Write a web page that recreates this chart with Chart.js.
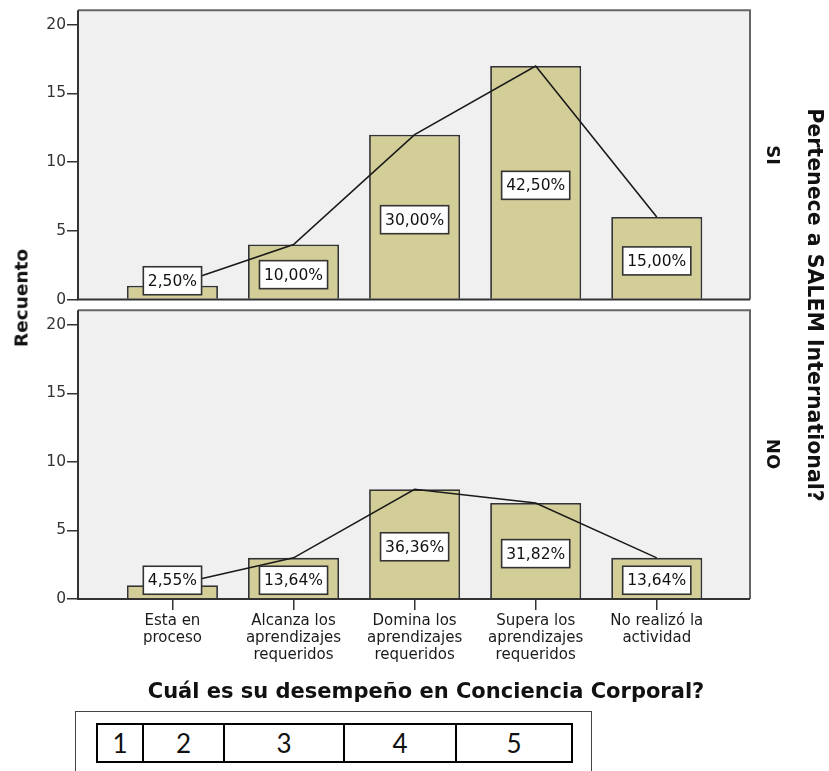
<!DOCTYPE html>
<html>
<head>
<meta charset="utf-8">
<script src="https://cdn.jsdelivr.net/npm/chart.js@4.4.1/dist/chart.umd.min.js"></script>
<style>
  html, body { margin: 0; padding: 0; background: #fff; }
  #wrap { position: relative; width: 829px; height: 771px; overflow: hidden; background: #fff; }
  canvas { position: absolute; left: 0; }
  .lbl { position: absolute; font-family: "DejaVu Sans", sans-serif; font-weight: bold; color: #111;
         white-space: nowrap; transform-origin: center center; }
  #box { position: absolute; left: 75px; top: 711px; width: 515px; height: 90px; border: 1.5px solid #444; }
  #tbl { position: absolute; left: 96px; top: 723px; border-collapse: collapse; }
  #tbl td { border: 2px solid #000; height: 36px; padding: 0; text-align: center;
            font-family: Lato, "Open Sans", sans-serif; font-size: 26px; color: #111; }
</style>
</head>
<body>
<div id="wrap">
  <canvas id="siChart" width="829" height="310" style="top:0"></canvas>
  <canvas id="noChart" width="829" height="379" style="top:300px"></canvas>

  <div class="lbl" id="yTitle" style="left:21px;top:298px;font-size:18.5px;transform:translate(-50%,-50%) rotate(-90deg)">Recuento</div>
  <div class="lbl" id="siLbl" style="left:773px;top:155px;font-size:18px;transform:translate(-50%,-50%) rotate(90deg)">SI</div>
  <div class="lbl" id="noLbl" style="left:773px;top:454px;font-size:18px;transform:translate(-50%,-50%) rotate(90deg)">NO</div>
  <div class="lbl" id="rTitle" style="left:815px;top:305px;font-size:20.5px;transform:translate(-50%,-50%) rotate(90deg)">Pertenece a SALEM International?</div>
  <div class="lbl" id="xTitle" style="left:426px;top:691px;font-size:21px;transform:translate(-50%,-50%)">Cuál es su desempeño en Conciencia Corporal?</div>

  <div id="box"></div>
  <table id="tbl"><tr id="tblRow"></tr></table>
</div>

<script>
// ── Data ──────────────────────────────────────────────────────────────────
var categories = [
  ['Esta en', 'proceso'],
  ['Alcanza los', 'aprendizajes', 'requeridos'],
  ['Domina los', 'aprendizajes', 'requeridos'],
  ['Supera los', 'aprendizajes', 'requeridos'],
  ['No realizó la', 'actividad']
];
var siCounts = [1, 4, 12, 17, 6];
var noCounts = [1, 3, 8, 7, 3];
var siPct = ['2,50%', '10,00%', '30,00%', '42,50%', '15,00%'];
var noPct = ['4,55%', '13,64%', '36,36%', '31,82%', '13,64%'];
var yTicks = [0, 5, 10, 15, 20];
var tableCells = ['1', '2', '3', '4', '5'];
var tableWidths = [46, 81, 120, 112, 116];

// ── Table under the chart ─────────────────────────────────────────────────
var row = document.getElementById('tblRow');
tableCells.forEach(function (t, i) {
  var td = document.createElement('td');
  td.textContent = t;
  td.style.width = (tableWidths[i] - 2) + 'px';
  row.appendChild(td);
});

// ── Styles ────────────────────────────────────────────────────────────────
var BAR_FILL = '#d3ce97';
var BAR_EDGE = '#333';
var PLOT_BG  = '#f0f0f0';
var INK      = '#1a1a1a';
var FONT     = '"DejaVu Sans", sans-serif';

// background, frame and value boxes
var panelPlugin = {
  id: 'panel',
  beforeDatasetsDraw: function (chart) {
    var a = chart.chartArea, ctx = chart.ctx;
    ctx.save();
    ctx.fillStyle = PLOT_BG;
    ctx.fillRect(a.left, a.top, a.right - a.left, a.bottom - a.top);
    ctx.restore();
  },
  afterDatasetsDraw: function (chart) {
    var a = chart.chartArea, ctx = chart.ctx;
    ctx.save();
    ctx.lineWidth = 2;
    ctx.strokeStyle = '#666';
    ctx.beginPath();
    ctx.moveTo(a.left, a.top); ctx.lineTo(a.right, a.top); ctx.lineTo(a.right, a.bottom);
    ctx.stroke();
    ctx.strokeStyle = '#333';
    ctx.beginPath();
    ctx.moveTo(a.left, a.top); ctx.lineTo(a.left, a.bottom); ctx.lineTo(a.right, a.bottom);
    ctx.stroke();

    // percentage boxes
    var labels = chart.options.plugins.panel.labels;
    var meta = chart.getDatasetMeta(0);
    ctx.font = '15.5px ' + FONT;
    ctx.textAlign = 'center';
    ctx.textBaseline = 'middle';
    meta.data.forEach(function (bar, i) {
      var p = bar.getProps(['x', 'y', 'base'], true);
      var h = 28;
      var cy = Math.min((p.y + p.base) / 2 + 3, p.base - 4 - h / 2);
      var w = ctx.measureText(labels[i]).width + 9;
      ctx.fillStyle = '#fff';
      ctx.fillRect(p.x - w / 2, cy - h / 2, w, h);
      ctx.strokeStyle = '#333';
      ctx.lineWidth = 1.6;
      ctx.strokeRect(p.x - w / 2, cy - h / 2, w, h);
      ctx.fillStyle = '#111';
      ctx.fillText(labels[i], p.x, cy + 1);
    });
    ctx.restore();
  }
};

function points(values) {
  return values.map(function (v, i) { return { x: i, y: v }; });
}

function makePanel(canvasId, counts, pct, showX, padding) {
  return new Chart(document.getElementById(canvasId), {
    data: {
      datasets: [
        {
          type: 'bar',
          data: points(counts),
          backgroundColor: BAR_FILL,
          borderColor: BAR_EDGE,
          borderWidth: 1.8,
          barPercentage: 0.752,
          categoryPercentage: 1,
          order: 2
        },
        {
          type: 'line',
          data: points(counts),
          borderColor: INK,
          borderWidth: 1.6,
          pointRadius: 0,
          tension: 0,
          fill: false,
          order: 1
        }
      ]
    },
    options: {
      responsive: false,
      animation: false,
      devicePixelRatio: 1,
      layout: { padding: padding },
      plugins: {
        legend: { display: false },
        tooltip: { enabled: false },
        panel: { labels: pct }
      },
      scales: {
        x: {
          type: 'linear',
          display: showX,
          offset: false,
          min: -0.78,
          max: 4.77,
          afterBuildTicks: function (s) {
            s.ticks = categories.map(function (c, i) { return { value: i }; });
          },
          afterFit: function (s) { if (showX) { s.height = 80; } },
          border: { display: false },
          grid: { offset: false, drawOnChartArea: false, drawTicks: true, tickLength: 11, color: '#333', lineWidth: 1.5 },
          ticks: {
            color: INK,
            padding: 3,
            maxRotation: 0,
            autoSkip: false,
            font: { family: FONT, size: 15, lineHeight: 1.13 },
            callback: function (v) { return categories[v]; }
          }
        },
        y: {
          min: 0,
          max: 21.05,
          afterBuildTicks: function (s) {
            s.ticks = yTicks.map(function (v) { return { value: v }; });
          },
          afterFit: function (s) { s.width = 78; },
          border: { display: false },
          grid: { drawOnChartArea: false, drawTicks: true, tickLength: 11, color: '#333', lineWidth: 1.5 },
          ticks: {
            color: '#333',
            padding: 1,
            font: { family: FONT, size: 15.5 }
          }
        }
      }
    },
    plugins: [panelPlugin]
  });
}

makePanel('siChart', siCounts, siPct, false, { left: 0, top: 10, right: 79, bottom: 10.5 });
makePanel('noChart', noCounts, noPct, true, { left: 0, top: 9, right: 79, bottom: 0 });
</script>
</body>
</html>
